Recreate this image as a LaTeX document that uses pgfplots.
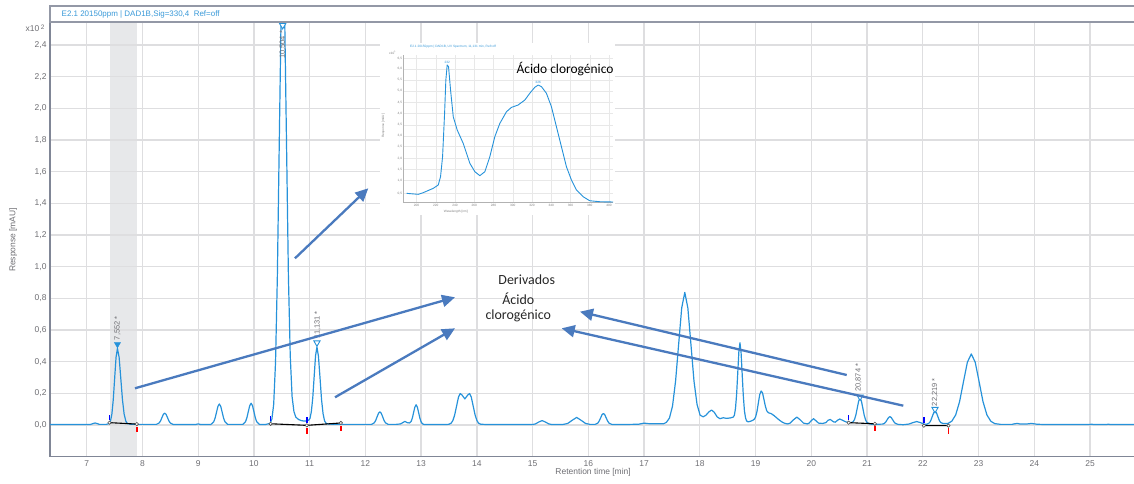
\documentclass[border=0pt]{standalone}
\usepackage{fontspec}
\setmainfont{Liberation Sans}
\newfontfamily\calibri{Carlito}
\usepackage{pgfplots}
\pgfplotsset{compat=1.18}
\usetikzlibrary{arrows.meta}
\definecolor{trace}{RGB}{38,146,218}
\definecolor{arrowc}{RGB}{74,122,190}
\definecolor{gridc}{RGB}{222,222,224}
\definecolor{axisc}{RGB}{128,134,150}
\definecolor{tickc}{RGB}{110,110,115}
\definecolor{bandc}{RGB}{231,232,234}
\definecolor{headc}{RGB}{58,154,217}
\begin{document}
\begin{tikzpicture}[x=1bp,y=1bp]
\begin{axis}[
  set layers,
  at={(50bp,27.3bp)}, anchor=south west,
  width=1084bp, height=434.7bp, scale only axis,
  xmin=6.342, xmax=25.789, ymin=-0.2, ymax=2.546,
  axis x line*=bottom, axis y line*=left,
  axis line style={axisc, line width=1.3bp, -},
  xtick={7,...,25},
  ytick={0,0.2,0.4,0.6,0.8,1.0,1.2,1.4,1.6,1.8,2.0,2.2,2.4},
  grid=major, major grid style={gridc, line width=1.3bp},
  major tick length=0pt,
  /pgf/number format/assume math mode=true,
  tick label style={font=\fontsize{8.5}{10}\selectfont, text=tickc},
  yticklabel style={/pgf/number format/.cd, use comma, fixed, fixed zerofill, precision=1},
  xlabel={Retention time [min]},
  ylabel={Response [mAU]},
  label style={font=\fontsize{8.5}{10}\selectfont, text=tickc},
  xlabel style={at={(axis description cs:0.501,0)}, anchor=center, yshift=-15.5bp},
  ylabel style={at={(axis description cs:-0.0339,0.4985)}, anchor=center},
]
\begin{pgfonlayer}{axis background}
\fill[bandc] (axis cs:7.42,-0.2) rectangle (axis cs:7.90,2.546);
\end{pgfonlayer}

\addplot[trace, line width=1.2bp, line join=round] coordinates {
(6.342,0.003)(7.0,0.003)(7.07,0.004)(7.11,0.009)(7.15,0.013)(7.19,0.009)(7.23,0.004)(7.35,0.004)
(7.40,0.009)(7.427,0.025)(7.452,0.069)(7.477,0.160)(7.502,0.295)(7.527,0.428)(7.552,0.484)(7.582,0.428)(7.612,0.295)(7.642,0.160)(7.672,0.069)(7.702,0.025)(7.732,0.009)(7.80,0.005)(7.90,0.004)
(8.25,0.004)(8.30,0.013)(8.325,0.026)(8.35,0.047)(8.375,0.067)(8.40,0.075)(8.425,0.067)(8.45,0.047)(8.475,0.026)(8.50,0.013)(8.55,0.004)
(8.95,0.003)(9.0,0.007)(9.05,0.003)
(9.23,0.004)(9.28,0.021)(9.305,0.045)(9.33,0.082)(9.355,0.118)(9.38,0.133)(9.405,0.118)(9.43,0.082)(9.455,0.045)(9.48,0.021)(9.53,0.004)
(9.80,0.004)(9.85,0.021)(9.875,0.047)(9.90,0.085)(9.925,0.122)(9.95,0.138)(9.975,0.122)(10.0,0.085)(10.025,0.047)(10.05,0.021)(10.10,0.004)
(10.20,0.003)(10.289,0.010)(10.322,0.036)(10.355,0.131)(10.388,0.396)(10.421,0.942)(10.454,1.759)(10.487,2.559)(10.52,2.9)(10.553,2.559)(10.586,1.759)(10.619,0.942)(10.652,0.438)(10.685,0.180)(10.718,0.085)(10.75,0.051)(10.80,0.035)(10.85,0.028)(10.90,0.025)(10.95,0.026)
(10.981,0.030)(11.006,0.041)(11.031,0.086)(11.056,0.172)(11.081,0.306)(11.106,0.438)(11.131,0.493)(11.158,0.434)(11.186,0.299)(11.213,0.162)(11.241,0.071)(11.268,0.026)(11.296,0.010)(11.35,0.006)(11.50,0.004)
(12.11,0.004)(12.16,0.014)(12.185,0.029)(12.21,0.052)(12.235,0.074)(12.26,0.083)(12.285,0.074)(12.31,0.052)(12.335,0.029)(12.36,0.014)(12.41,0.004)
(12.55,0.004)(12.63,0.007)(12.67,0.015)(12.71,0.023)(12.75,0.015)(12.79,0.013)(12.82,0.022)(12.8425,0.044)(12.865,0.079)(12.8875,0.113)(12.91,0.128)(12.9325,0.113)(12.955,0.079)(12.9775,0.044)(13.0,0.020)(13.0225,0.008)(13.05,0.004)
(13.45,0.003)(13.50,0.005)(13.54,0.012)(13.57,0.029)(13.60,0.061)(13.635,0.118)(13.67,0.176)(13.70,0.199)(13.735,0.189)(13.785,0.165)(13.835,0.189)(13.87,0.199)(13.90,0.176)(13.935,0.118)(13.97,0.061)(14.00,0.029)(14.03,0.012)(14.07,0.005)(14.20,0.003)
(15.0,0.003)(15.05,0.007)(15.11,0.019)(15.17,0.028)(15.23,0.019)(15.29,0.007)(15.35,0.003)
(15.55,0.004)(15.63,0.010)(15.71,0.030)(15.79,0.048)(15.87,0.030)(15.95,0.010)(16.03,0.004)
(16.12,0.004)(16.17,0.012)(16.195,0.026)(16.22,0.045)(16.245,0.065)(16.27,0.073)(16.295,0.065)(16.32,0.045)(16.345,0.026)(16.37,0.012)(16.42,0.004)
(16.60,0.003)(16.90,0.005)(17.0,0.012)(17.10,0.008)(17.20,0.008)(17.35,0.008)
(17.40,0.017)(17.455,0.044)(17.51,0.120)(17.565,0.278)(17.62,0.511)(17.675,0.740)(17.73,0.838)(17.785,0.740)(17.84,0.511)(17.895,0.278)(17.95,0.130)(18.005,0.062)(18.06,0.052)(18.11,0.062)(18.16,0.082)(18.21,0.095)(18.26,0.080)(18.31,0.052)(18.36,0.040)(18.42,0.046)(18.48,0.042)(18.55,0.045)
(18.60,0.050)(18.62,0.062)(18.64,0.106)(18.66,0.194)(18.68,0.327)(18.70,0.462)(18.72,0.520)(18.74,0.457)(18.76,0.320)(18.78,0.185)(18.80,0.090)(18.82,0.045)(18.84,0.025)(18.87,0.020)(18.92,0.025)
(18.95,0.030)(18.975,0.036)(19.0,0.050)(19.025,0.085)(19.05,0.140)(19.075,0.193)(19.10,0.215)(19.125,0.203)(19.15,0.162)(19.175,0.120)(19.20,0.090)(19.23,0.078)(19.28,0.072)(19.33,0.060)(19.38,0.045)(19.43,0.030)(19.48,0.018)(19.53,0.010)(19.58,0.007)
(19.62,0.012)(19.68,0.033)(19.74,0.050)(19.80,0.033)(19.86,0.012)(19.93,0.007)(19.96,0.012)(20.0,0.028)(20.04,0.040)(20.08,0.028)(20.13,0.012)(20.20,0.010)(20.26,0.015)(20.30,0.030)(20.34,0.035)(20.40,0.020)(20.43,0.018)(20.47,0.030)(20.51,0.038)(20.56,0.030)(20.62,0.020)(20.67,0.016)
(20.724,0.016)(20.749,0.020)(20.774,0.034)(20.799,0.063)(20.824,0.107)(20.849,0.151)(20.874,0.170)(20.899,0.151)(20.924,0.107)(20.949,0.062)(20.974,0.032)(20.999,0.016)(21.05,0.007)(21.10,0.004)
(21.28,0.006)(21.31,0.010)(21.335,0.019)(21.36,0.033)(21.385,0.047)(21.41,0.053)(21.435,0.047)(21.46,0.033)(21.485,0.019)(21.51,0.010)(21.56,0.004)(21.65,0.002)
(21.75,0.006)(21.82,0.015)(21.89,0.022)(21.96,0.015)(22.02,0.006)
(22.07,0.005)(22.12,0.014)(22.145,0.030)(22.17,0.054)(22.195,0.077)(22.22,0.088)(22.245,0.077)(22.27,0.054)(22.295,0.030)(22.32,0.016)(22.36,0.010)(22.40,0.009)
(22.45,0.010)(22.52,0.024)(22.59,0.064)(22.66,0.148)(22.73,0.274)(22.80,0.397)(22.87,0.449)(22.94,0.397)(23.01,0.274)(23.08,0.148)(23.15,0.064)(23.22,0.024)(23.29,0.009)(23.40,0.004)
(23.60,0.004)(23.65,0.008)(23.70,0.010)(23.75,0.006)(23.85,0.006)(23.95,0.010)(24.05,0.005)(24.20,0.003)(25.0,0.003)(25.03,0.006)(25.06,0.003)(25.30,0.003)(25.33,0.006)(25.36,0.003)(25.789,0.003)
};

% integration baselines
\addplot[black, line width=1.1bp, unbounded coords=jump, mark=*, mark size=1.7bp,
  mark options={fill=white, draw=black!70, line width=0.6bp}] coordinates {
(7.41,0.015)(7.90,0.006)(7.90,nan)
(10.30,0.008)(10.95,-0.002)(11.56,0.013)(11.56,nan)
(20.67,0.015)(21.14,0.008)(21.14,nan)
(22.02,-0.004)(22.46,-0.004)};
% start ticks (blue)
\addplot[blue, line width=1.6bp, unbounded coords=jump] coordinates {
(7.41,0.03)(7.41,0.065)(7.41,nan)
(10.30,0.025)(10.30,0.06)(10.30,nan)
(10.95,0.015)(10.95,0.05)(10.95,nan)
(20.67,0.03)(20.67,0.065)(20.67,nan)
(22.02,0.015)(22.02,0.05)};
% end ticks (red)
\addplot[red, line width=1.6bp, unbounded coords=jump] coordinates {
(7.90,-0.01)(7.90,-0.045)(7.90,nan)
(10.95,-0.02)(10.95,-0.055)(10.95,nan)
(11.56,-0.005)(11.56,-0.04)(11.56,nan)
(21.14,-0.005)(21.14,-0.04)(21.14,nan)
(22.46,-0.02)(22.46,-0.055)};
% peak markers
\addplot[only marks, mark=triangle*, mark size=3.6bp,
  mark options={rotate=180, fill=trace, draw=trace}] coordinates {(7.552,0.51)};
\addplot[only marks, mark=triangle*, mark size=3.6bp,
  mark options={rotate=180, fill=white, draw=trace, line width=0.9bp}] coordinates {
(10.516,2.525)(11.131,0.52)(20.874,0.178)(22.219,0.10)};

\node[rotate=90, anchor=west, text=tickc, font=\fontsize{7.5}{8}\selectfont, inner sep=0pt] at (axis cs:7.552,0.535) {7,552 *};
\node[rotate=90, anchor=west, text=tickc, font=\fontsize{7.5}{8}\selectfont, inner sep=0pt] at (axis cs:11.14,0.545) {11,131 *};
\node[rotate=90, anchor=west, text=tickc, font=\fontsize{7.5}{8}\selectfont, inner sep=0pt] at (axis cs:20.846,0.21) {20,874 *};
\node[rotate=90, anchor=west, text=tickc, font=\fontsize{7.5}{8}\selectfont, inner sep=0pt] at (axis cs:22.22,0.118) {22,219 *};
\node[rotate=90, anchor=east, text=tickc, font=\fontsize{7.5}{8}\selectfont, inner sep=0pt] at (axis cs:10.516,2.49) {10,504 *};
\end{axis}

% header box
\draw[axisc!85, line width=1.1bp, fill=white] (50,462) rectangle (1145,478);
\node[anchor=west, text=headc, font=\fontsize{8}{9}\selectfont, inner sep=0pt] at (61.5,470) {E2.1 20150ppm | DAD1B,Sig=330,4\ \ Ref=off};
\node[anchor=west, text=tickc, font=\fontsize{8.5}{9}\selectfont, inner sep=0pt] at (25.5,455.5) {x10\,\raisebox{2.5bp}{\fontsize{6.5}{7}\selectfont 2}};

% inset (UV spectrum)
\fill[white] (380,269) rectangle (615,441);
\begin{axis}[
  at={(403.3bp,281.3bp)}, anchor=south west,
  width=210bp, height=147.7bp, scale only axis,
  xmin=186.2, xmax=404.4, ymin=0, ymax=106,
  axis x line*=bottom, axis y line*=left,
  axis line style={gray!60, line width=0.5bp, -},
  grid=major, major grid style={gray!18, line width=0.5bp},
  major tick length=0pt,
  /pgf/number format/assume math mode=true,
  tick label style={font=\fontsize{3.2}{4}\selectfont, text=gray, inner sep=1bp},
  xtick={200,220,...,400},
  ytick={6.7,15.8,23.9,31.8,40.2,47.8,55.7,64.1,71.8,80.1,88.0,95.9,103.6},
  yticklabels={{0,5},{1,0},{1,5},{2,0},{2,5},{3,0},{3,5},{4,0},{4,5},{5,0},{5,5},{6,0},{6,5}},
  xlabel={Wavelength [nm]}, ylabel={Response [mAU]},
  label style={font=\fontsize{3.2}{4}\selectfont, text=gray},
  xlabel style={at={(axis description cs:0.25,0)}, anchor=center, yshift=-8.5bp},
  ylabel style={at={(axis description cs:-0.095,0.52)}, anchor=center},
]
\addplot[trace, line width=0.9bp, line join=round] coordinates {
(189.6,6.7)(201.7,6.0)(206.9,7.2)(217.3,10.3)(222.5,12.7)(224.9,18.7)(227.0,33.0)(229.1,64.1)(230.4,88.0)(231.8,98.8)(233.2,97.6)(235.3,80.9)(238.1,61.7)(242.2,52.2)(248.4,42.6)(251.9,35.4)(255.4,28.2)(260.6,22.2)(265.7,19.4)(270.9,22.2)(276.1,33.0)(281.3,47.4)(286.5,56.9)(293.4,65.3)(298.6,68.4)(305.5,70.1)(312.5,73.7)(317.6,78.5)(322.8,82.8)(326.3,84.4)(329.7,83.3)(334.9,78.5)(340.1,68.9)(345.3,54.5)(350.5,40.2)(355.7,25.8)(360.9,16.3)(366.1,9.1)(373.0,4.3)(379.9,1.4)(390.3,0.7)(404.1,0.5)
};
\node[text=trace, font=\fontsize{3.2}{4}\selectfont, anchor=south, inner sep=0.5bp] at (axis cs:231.8,99.5) {232};
\node[text=trace, font=\fontsize{3.2}{4}\selectfont, anchor=south, inner sep=0.5bp] at (axis cs:326.3,85) {326};
\end{axis}
\node[anchor=west, text=headc, font=\fontsize{3.2}{4}\selectfont, inner sep=0pt] at (410,437.3) {E2.1 20150ppm | DAD1B, UV Spectrum, 11,131 min, Ref=off};
\node[anchor=west, text=gray, font=\fontsize{3.2}{4}\selectfont, inner sep=0pt] at (389,431) {x10\textsuperscript{1}};
\node[text=black, font=\calibri\fontsize{13.5}{15}\selectfont] at (565,414.7) {Ácido clorogénico};

% annotation text
\node[text=black!85, font=\calibri\fontsize{14}{16}\selectfont] at (526.7,204) {Derivados};
\node[text=black!85, font=\calibri\fontsize{14}{16}\selectfont] at (518.3,185.7) {Ácido};
\node[text=black!85, font=\calibri\fontsize{14}{16}\selectfont] at (518.3,168) {clorogénico};

% arrows
\begin{scope}[arrowc, line width=2.3bp, -{Triangle[length=13bp, width=12bp]}]
\draw (295,225.7) -- (368.3,295.7);
\draw (135,95.7) -- (455,186.7);
\draw (335,86.7) -- (455,155.7);
\draw (846.7,109) -- (580,172.3);
\draw (903.3,78.3) -- (561.7,155.7);
\end{scope}

\pgfresetboundingbox
\useasboundingbox (0,0) rectangle (1134,484);
\end{tikzpicture}
\end{document}
